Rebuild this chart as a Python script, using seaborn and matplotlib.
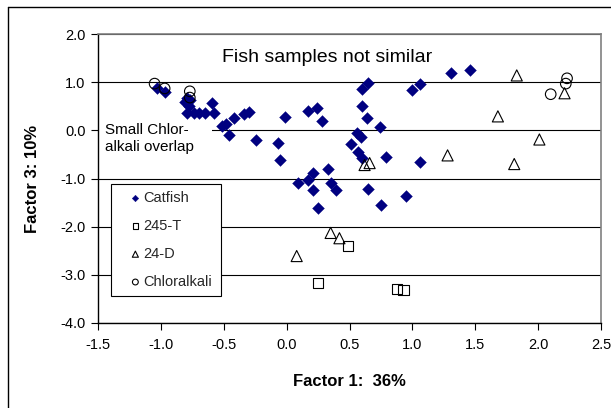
import matplotlib
matplotlib.use("Agg")
import matplotlib.pyplot as plt
import seaborn as sns
from matplotlib.lines import Line2D

# ---- data ----
catfish_x = [-1.03, -0.97, -0.79, -0.81, -0.77, -0.78, -0.79, -0.74, -0.70, -0.65,
             -0.59, -0.58, -0.51, -0.48, -0.46, -0.42, -0.34, -0.30, -0.24, -0.07,
             -0.05, -0.01, 0.17, 0.24, 0.28, 0.33, 0.21, 0.17, 0.09, 0.35,
             0.39, 0.21, 0.25, 0.51, 0.56, 0.59, 0.57, 0.60, 0.60, 0.64,
             0.74, 0.60, 0.65, 0.79, 0.65, 0.75, 0.95, 1.06, 1.00, 1.06,
             1.31, 1.46]
catfish_y = [0.87, 0.79, 0.68, 0.58, 0.62, 0.50, 0.37, 0.37, 0.37, 0.37,
             0.56, 0.37, 0.10, 0.14, -0.10, 0.25, 0.33, 0.39, -0.21, -0.27,
             -0.62, 0.27, 0.41, 0.46, 0.19, -0.81, -0.89, -1.04, -1.10, -1.10,
             -1.24, -1.24, -1.61, -0.29, -0.06, -0.14, -0.46, -0.58, 0.50, 0.25,
             0.06, 0.85, 0.99, -0.56, -1.22, -1.55, -1.37, -0.66, 0.83, 0.97,
             1.20, 1.26]
t245_x = [0.49, 0.25, 0.88, 0.93]
t245_y = [-2.40, -3.17, -3.29, -3.31]
d24_x = [0.08, 0.35, 0.42, 0.62, 0.66, 1.28, 1.68, 1.83, 1.81, 2.01, 2.21]
d24_y = [-2.61, -2.13, -2.24, -0.72, -0.68, -0.52, 0.29, 1.14, -0.70, -0.19, 0.77]
chlor_x = [-1.05, -0.97, -0.77, -0.77, 2.10, 2.23, 2.22]
chlor_y = [0.97, 0.87, 0.81, 0.68, 0.75, 1.08, 0.97]

series_labels = ["Catfish", "245-T", "24-D", "Chloralkali"]
x_ticks = [-1.5, -1.0, -0.5, 0.0, 0.5, 1.0, 1.5, 2.0, 2.5]
y_ticks = [-4.0, -3.0, -2.0, -1.0, 0.0, 1.0, 2.0]

# ---- style ----
sns.set_theme(style="white")
plt.rcParams["font.family"] = ["Liberation Sans", "DejaVu Sans"]

fig = plt.figure(figsize=(6.11, 4.08), dpi=100)
ax = fig.add_axes([98 / 611, 1 - 323 / 408, 503 / 611, 289 / 408])

sns.scatterplot(x=catfish_x, y=catfish_y, marker="D", s=36, color="#000080",
                edgecolor="#000080", linewidth=0.3, label=series_labels[0], ax=ax, zorder=3)
sns.scatterplot(x=t245_x, y=t245_y, marker="s", s=56, color="black",
                facecolor="none", edgecolor="black", linewidth=0.8,
                label=series_labels[1], ax=ax, zorder=3)
sns.scatterplot(x=d24_x, y=d24_y, marker="^", s=64, color="black",
                facecolor="none", edgecolor="black", linewidth=0.8,
                label=series_labels[2], ax=ax, zorder=3)
sns.scatterplot(x=chlor_x, y=chlor_y, marker="o", s=58, color="black",
                facecolor="none", edgecolor="black", linewidth=0.8,
                label=series_labels[3], ax=ax, zorder=3)

ax.set_xlim(-1.5, 2.5)
ax.set_ylim(-4.0, 2.0)
ax.set_xticks(x_ticks)
ax.set_yticks(y_ticks)
ax.set_xticklabels([f"{v:.1f}" for v in x_ticks])
ax.set_yticklabels([f"{v:.1f}" for v in y_ticks])
ax.tick_params(axis="both", direction="out", length=5, width=0.8, color="black",
               labelsize=10.5, labelcolor="black")
ax.tick_params(axis="x", pad=6, bottom=True)
ax.tick_params(axis="y", pad=4, left=True)

ax.set_axisbelow(True)
ax.yaxis.grid(True, color="black", linewidth=0.8)
ax.xaxis.grid(False)

for side in ["left", "bottom"]:
    ax.spines[side].set_color("black")
    ax.spines[side].set_linewidth(1.0)
for side in ["top", "right"]:
    ax.spines[side].set_color("#808080")
    ax.spines[side].set_linewidth(1.2)

ax.set_xlabel("Factor 1:  36%", fontsize=12, fontweight="bold", color="black")
ax.set_ylabel("Factor 3: 10%", fontsize=12, fontweight="bold", color="black")
ax.xaxis.set_label_coords(0.5, -0.175)
ax.yaxis.set_label_coords(-0.115, 0.5)

ax.text(-0.51, 1.51, "Fish samples not similar", fontsize=14, ha="left",
        va="center", color="black")
ax.text(-1.445, -0.17, "Small Chlor-\nalkali overlap", fontsize=11, ha="left",
        va="center", color="black", linespacing=1.3, zorder=0.8, clip_on=True,
        bbox=dict(boxstyle="square,pad=1.2", fc="white", ec="none"))

leg = ax.legend(loc="upper left", bbox_to_anchor=(0.026, 0.0, 0.219, 0.481),
                mode="expand", borderaxespad=0, fontsize=10.5, frameon=True,
                fancybox=False, shadow=False, framealpha=1, edgecolor="black",
                borderpad=0.5, labelspacing=0.95, handlelength=2.33,
                handletextpad=-0.62, markerscale=0.55)
leg.get_frame().set_linewidth(0.8)

# chart-area border (left and top edges visible)
fig.add_artist(Line2D([8 / 611, 8 / 611], [0, 1 - 7 / 408], transform=fig.transFigure,
                      color="black", linewidth=1.0))
fig.add_artist(Line2D([8 / 611, 1], [1 - 7 / 408, 1 - 7 / 408], transform=fig.transFigure,
                      color="black", linewidth=1.0))

fig.savefig("out.png", dpi=100, facecolor="white")
